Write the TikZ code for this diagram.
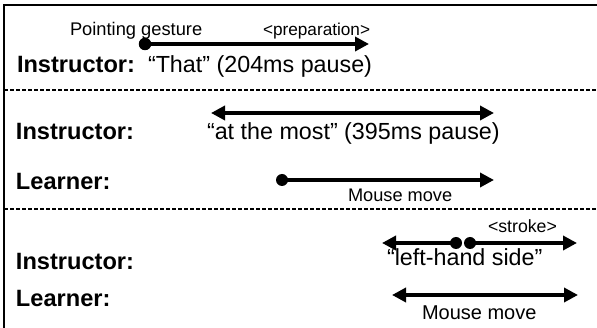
\documentclass[tikz,border=0pt]{standalone}
\usepackage{fontspec}
\setmainfont{Liberation Sans}
\usetikzlibrary{arrows.meta}
\begin{document}
\begin{tikzpicture}[x=1pt,y=-1pt,
  txt/.style={anchor=base west,inner sep=0pt,outer sep=0pt},
  lbl/.style={txt,font=\fontsize{23.6}{28}\selectfont\bfseries},
  quote/.style={txt,font=\fontsize{23.3}{28}\selectfont},
  small/.style={txt,font=\fontsize{#1}{20}\selectfont},
  dot/.style={circle,fill=black,inner sep=0pt,minimum size=#1},
  arr/.style={line width=4.5pt,-{Triangle[length=14pt,width=14pt]}},
  darr/.style={line width=4.5pt,{Triangle[length=14pt,width=14pt]}-{Triangle[length=14pt,width=14pt]}},
  frame/.style={line width=1.4pt},
  sep/.style={line width=1.4pt,dash pattern=on 4pt off 2pt}]
\useasboundingbox (0,0) rectangle (597,328);
% frame
\coordinate (tl) at (4,5);
\coordinate (tr) at (597,5);
\coordinate (bl) at (4,328);
\draw[frame] (tr) -- (tl) -- (bl);
\coordinate (s1l) at (4,90);
\coordinate (s1r) at (597,90);
\coordinate (s2l) at (4,209);
\coordinate (s2r) at (597,209);
\draw[sep] (s1l) -- (s1r);
\draw[sep] (s2l) -- (s2r);
% section 1
\node[small=18.3] (pg) at (70,36) {Pointing gesture};
\node[small=17.2] (prep) at (263,36) {<preparation>};
\node[dot=12.5pt] (d1) at (145,44) {};
\coordinate (e1) at (369,44);
\draw[arr] (d1.center) -- (e1);
\node[lbl] (i1) at (17,73) {Instructor:};
\node[quote] (q1) at (148,73) {“That” (204ms pause)};
% section 2
\coordinate (a2l) at (211,113);
\coordinate (a2r) at (494,113);
\draw[darr] (a2l) -- (a2r);
\node[lbl] (i2) at (16,140) {Instructor:};
\node[quote] (q2) at (207,140) {“at the most” (395ms pause)};
\node[lbl] (l2) at (16,190) {Learner:};
\node[dot=12pt] (d2) at (282,180) {};
\coordinate (e2) at (494,180);
\draw[arr] (d2.center) -- (e2);
\node[small=18.2] (mm1) at (348,202) {Mouse move};
% section 3
\coordinate (a3l) at (382,243);
\node[dot=12pt] (d3a) at (456,243) {};
\node[dot=12pt] (d3b) at (470,243) {};
\coordinate (a3r) at (577,243);
\draw[line width=4pt,-{Triangle[length=14pt,width=14pt]}] (d3a.center) -- (a3l);
\draw[arr] (d3b.center) -- (a3r);
\node[small=17.7] (st) at (488,233) {<stroke>};
\node[lbl] (i3) at (16,270) {Instructor:};
\node[quote] (q3) at (387,266) {“left-hand side”};
\node[lbl] (l3) at (16,307) {Learner:};
\coordinate (a5l) at (392,295);
\coordinate (a5r) at (578,295);
\draw[darr] (a5l) -- (a5r);
\node[small=20] (mm2) at (422,320) {Mouse move};
\end{tikzpicture}
\end{document}
